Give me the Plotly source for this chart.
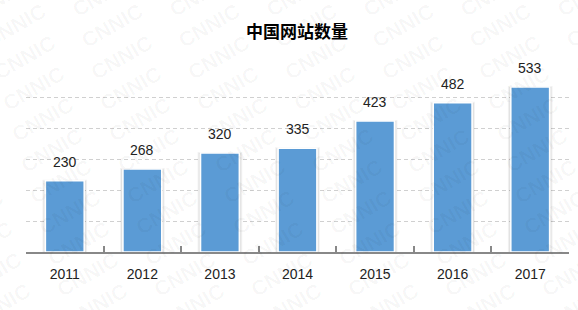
import plotly.graph_objects as go

years = ["2011", "2012", "2013", "2014", "2015", "2016", "2017"]
sites = [230, 268, 320, 335, 423, 482, 533]
title_text = "中国网站数量"

W, H = 578, 310
ML, MR, MT, MB = 26, 9, 66, 58
PW, PH = W - ML - MR, H - MT - MB

fig = go.Figure()

# soft shadow behind bars
fig.add_trace(go.Bar(
    x=years, y=sites, width=0.55,
    marker=dict(color="rgba(0,0,0,0.07)", line=dict(color="rgba(0,0,0,0.05)", width=2)),
    hoverinfo="skip", showlegend=False,
))
fig.add_trace(go.Bar(
    x=years, y=sites, width=0.5,
    marker=dict(color="#5B9BD5", line=dict(color="white", width=1.5)),
    showlegend=False,
))

annotations = []
# value labels
for i, yv in enumerate(sites):
    annotations.append(dict(
        x=i, y=yv, xref="x", yref="y", text=str(yv), showarrow=False,
        yanchor="bottom", yshift=9,
        font=dict(family="Liberation Sans, Arial", size=14, color="#222"),
    ))

# CNNIC watermark tiles
wm = []
for r in range(-1, 12):
    for c in range(-1, 8):
        px = 15 + 97 * c + 9 * r
        py = 26 + 31 * r
        if -40 < px < W + 40 and -20 < py < H + 20:
            wm.append(dict(
                x=(px - ML) / PW, y=1 - (py - MT) / PH, xref="paper", yref="paper",
                text="<b>CNNIC</b>", showarrow=False, textangle=-30,
                font=dict(family="Liberation Sans, Arial", size=21, color="rgba(0,0,0,0.035)"),
                xanchor="center", yanchor="middle",
            ))

fig.update_layout(
    width=W, height=H,
    margin=dict(l=ML, r=MR, t=MT, b=MB),
    paper_bgcolor="white", plot_bgcolor="white",
    barmode="overlay",
    title=dict(text="<b>" + title_text + "</b>", x=297 / W, xanchor="center",
               y=1 - 32 / H, yanchor="middle",
               font=dict(family="Noto Sans CJK SC", size=17, color="black")),
    annotations=wm + annotations,
    xaxis=dict(
        type="category", range=[-0.5, len(years) - 0.5], autorange=False,
        showline=True, linecolor="#888", linewidth=1.5,
        ticks="inside", tickson="boundaries", ticklen=6, tickcolor="#888", tickwidth=1.5,
        tickfont=dict(family="Liberation Sans, Arial", size=14, color="#222"),
        ticklabelstandoff=8, showgrid=False, zeroline=False,
    ),
    yaxis=dict(
        range=[0, 601], autorange=False, tick0=0, dtick=100, showticklabels=False, zeroline=False,
        showgrid=True, gridcolor="#d0d0d0", gridwidth=1, griddash="4px,3px",
        showline=False,
    ),
)

fig.write_html("out.html")
